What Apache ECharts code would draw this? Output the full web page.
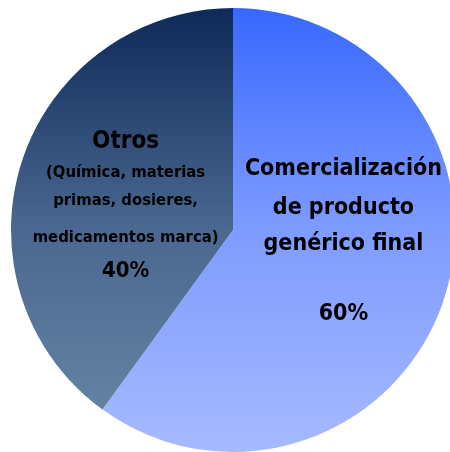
<!DOCTYPE html>
<html>
<head>
<meta charset="utf-8">
<script src="https://cdn.jsdelivr.net/npm/echarts@6/dist/echarts.min.js"></script>
<style>
  html, body { margin: 0; padding: 0; background: #fff; }
  #chart { width: 450px; height: 452px; }
</style>
</head>
<body>
<div id="chart"></div>
<script>
const categories = ['Comercialización de producto genérico final', 'Otros'];
const values = [60, 40];
const percentLabels = ['60%', '40%'];

const chartDom = document.getElementById('chart');
const myChart = echarts.init(chartDom);

// vertical gradients in page coordinates (pie spans y 8..452)
const blueFill = new echarts.graphic.LinearGradient(0, 8, 0, 452, [
    { offset: 0, color: '#3868ff' },
    { offset: 0.5, color: '#7e9bff' },
    { offset: 1, color: '#a6baff' }
], true);
const navyFill = new echarts.graphic.LinearGradient(0, 8, 0, 452, [
    { offset: 0, color: '#0d2a58' },
    { offset: 0.5, color: '#4a6890' },
    { offset: 1, color: '#6a88a6' }
], true);

const font = "'Liberation Sans Narrow', 'DejaVu Sans Condensed', 'Liberation Sans', sans-serif";

const option = {
    animation: false,
    series: [
        {
            type: 'pie',
            center: [233, 230],
            radius: 222,
            startAngle: 90,
            clockwise: true,
            data: [
                { name: categories[0], value: values[0], itemStyle: { color: blueFill } },
                { name: categories[1], value: values[1], itemStyle: { color: navyFill } }
            ],
            label: {
                show: true,
                position: 'inside',
                color: '#000',
                fontFamily: font,
                fontWeight: 'bold',
                formatter: (p) => {
                    if (p.dataIndex === 0) {
                        return '{a|Comercialización}\n{b|de producto}\n{b|genérico final}\n{c|' + percentLabels[0] + '}';
                    }
                    return '{t|Otros}\n{s|(Química, materias}\n{s|primas, dosieres,}\n{m|medicamentos marca)}\n{p|' + percentLabels[1] + '}';
                },
                rich: {
                    a: { fontSize: 23, fontWeight: 'bold', fontFamily: font, lineHeight: 42, color: '#000' },
                    b: { fontSize: 23, fontWeight: 'bold', fontFamily: font, lineHeight: 36, color: '#000' },
                    c: { fontSize: 23, fontWeight: 'bold', fontFamily: font, lineHeight: 104, color: '#000' },
                    t: { fontSize: 24, fontWeight: 'bold', fontFamily: font, lineHeight: 34, color: '#000' },
                    s: { fontSize: 16.5, fontWeight: 'bold', fontFamily: font, lineHeight: 28, color: '#000' },
                    m: { fontSize: 16.5, fontWeight: 'bold', fontFamily: font, lineHeight: 46, color: '#000' },
                    p: { fontSize: 22, fontWeight: 'bold', fontFamily: font, lineHeight: 22, color: '#000' }
                }
            },
            labelLayout: (params) => {
                return params.dataIndex === 0 ? { dx: 2, dy: -8 } : { dx: 1, dy: 9 };
            },
            labelLine: { show: false },
            emphasis: { disabled: true }
        }
    ]
};

myChart.setOption(option);
</script>
</body>
</html>
